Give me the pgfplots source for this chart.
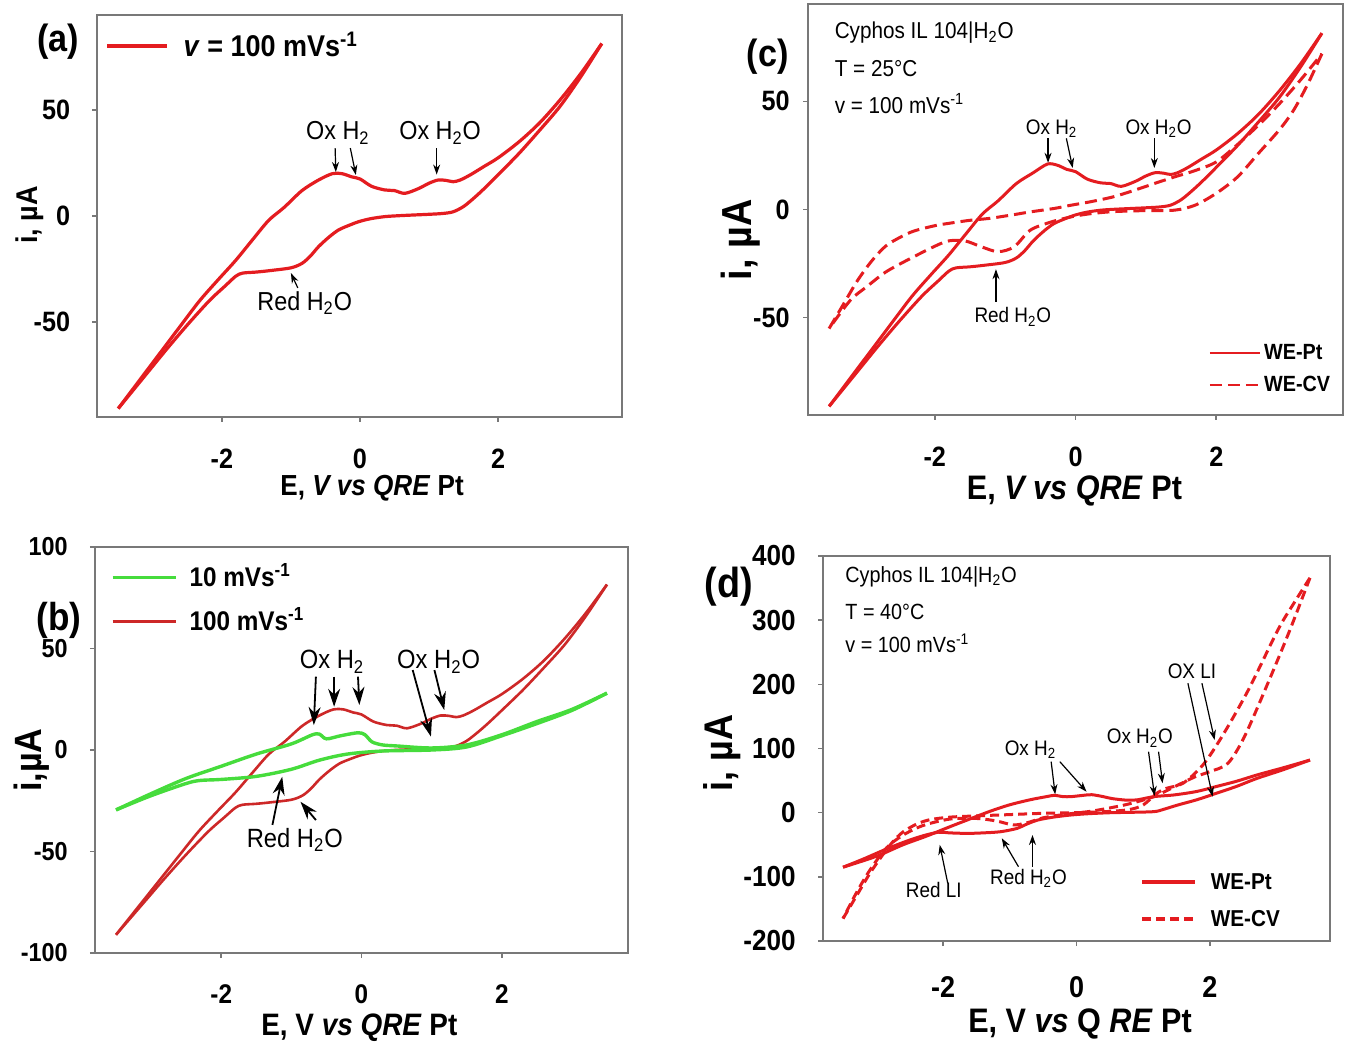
\documentclass[border=0pt]{standalone}
\usepackage{pgfplots}
\pgfplotsset{compat=1.18}
\usepackage{fontspec}
\setmainfont{Liberation Sans}[FakeStretch=0.9]
\usetikzlibrary{arrows.meta}
\definecolor{cvred}{RGB}{228,28,32}
\definecolor{bred}{RGB}{205,40,40}
\definecolor{cvgreen}{RGB}{70,220,60}
\definecolor{axgray}{RGB}{120,120,120}
\newcommand{\fs}[1]{\fontsize{#1}{#1}\selectfont}
\tikzset{ann/.style={-{Stealth[length=5pt,width=3.5pt]}, line width=0.6pt, black},
         bann/.style={-{Stealth[length=9pt,width=6pt]}, line width=0.9pt, black}}
\pgfplotsset{cvbase/.style={scale only axis, anchor=south west, xmin=-3.8, xmax=3.8,
  xtick={-2,0,2}, xticklabels={-2,0,2}, tick pos=left, tick align=outside,
  major tick length=2.5pt, axis line style={draw=axgray, line width=1pt},
  tick style={draw=axgray, line width=0.8pt}, clip=false, legend cell align=left,
  xticklabel style={anchor=center, inner sep=0pt},
  yticklabel style={anchor=east, inner sep=0pt}}}
\begin{document}
\begin{tikzpicture}
\useasboundingbox (0,0) rectangle (673.5pt,522pt);
% ---------------- (a) ----------------
\begin{axis}[cvbase, at={(48.75pt,313.5pt)}, width=262.5pt, height=201pt,
  ymin=-95, ymax=95, ytick={-50,0,50}, yticklabels={-50,0,50},
  xticklabel style={font=\fs{14}\bfseries, yshift=-18.5pt},
  yticklabel style={font=\fs{14}\bfseries, xshift=-11pt},
  xlabel={E, \textit{V vs QRE} Pt},
  xlabel style={font=\fs{14.5}\bfseries, at={(axis description cs:0.523,-0.1766)}, anchor=center},
  ylabel={i, µA},
  ylabel style={font=\fs{15}\bfseries, at={(axis description cs:-0.1286,0.5025)}, anchor=center},
  legend style={at={(axis description cs:0.0143,0.923)}, anchor=west, draw=none, fill=none,
    inner sep=0pt, column sep=7.5pt, font=\fs{15}\bfseries, nodes={inner sep=0pt}},
  legend image code/.code={\draw[#1] (0pt,0pt) -- (30pt,0pt);}]
\addlegendimage{cvred, line width=1.6pt}
\addlegendentry{\textit{v} = 100 mVs\textsuperscript{-1}}
\addplot[cvred, line width=1.6pt, smooth, tension=0.5, forget plot] coordinates {
(-3.5,-91) (-3.2,-78) (-2.9,-65) (-2.6,-52) (-2.32,-40) (-2.05,-30) (-1.8,-21) (-1.55,-11)
(-1.32,-2) (-1.1,4) (-0.84,12) (-0.6,17) (-0.4,20) (-0.26,20) (-0.12,18.5) (0,17.5) (0.17,14)
(0.36,12.3) (0.5,12) (0.65,10.7) (0.85,13) (1.0,15.5) (1.13,17) (1.25,16.8) (1.35,16.2)
(1.45,17) (1.6,19.5) (1.8,23.5) (2.0,27.5) (2.3,35) (2.6,44) (2.9,55) (3.2,67.5) (3.5,81.5)};
\addplot[cvred, line width=1.6pt, smooth, tension=0.5, forget plot] coordinates {
(3.5,81.5) (3.2,66) (2.9,52) (2.6,40.5) (2.3,29.5) (2.0,19.5) (1.8,13) (1.65,8.5) (1.5,4.5)
(1.35,2) (1.2,1.2) (1.0,0.8) (0.6,0.2) (0.36,-0.3) (0.15,-1.3) (-0.02,-2.7) (-0.15,-4.3)
(-0.31,-6.6) (-0.45,-10) (-0.6,-14.5) (-0.72,-19) (-0.84,-22.4) (-1.0,-24.5) (-1.3,-25.8)
(-1.5,-26.5) (-1.7,-27) (-1.8,-28.5) (-1.95,-33) (-2.18,-40) (-2.5,-51.5) (-2.8,-63)
(-3.1,-75) (-3.5,-91)};
\node[font=\fs{19}\bfseries] at (axis cs:-4.37,82.2) {(a)};
\node[font=\fs{13}] at (axis cs:-0.32,39.2) {Ox H\textsubscript{2}};
\node[font=\fs{13}] at (axis cs:1.16,39.2) {Ox H\textsubscript{2}O};
\node[font=\fs{13}] at (axis cs:-0.80,-41.1) {Red H\textsubscript{2}O};
\draw[ann] (axis cs:-0.36,32.1) -- (axis cs:-0.35,20.8);
\draw[ann] (axis cs:-0.14,32.1) -- (axis cs:-0.06,19.4);
\draw[ann] (axis cs:1.11,32.1) -- (axis cs:1.11,19.6);
\draw[ann] (axis cs:-0.90,-34) -- (axis cs:-1.0,-27);
\end{axis}
% ---------------- (b) ----------------
\begin{axis}[cvbase, at={(47.5pt,45.5pt)}, width=266.5pt, height=203pt,
  ymin=-100, ymax=100, ytick={-100,-50,0,50,100}, yticklabels={-100,-50,0,50,100},
  xticklabel style={font=\fs{13.5}\bfseries, yshift=-18pt},
  yticklabel style={font=\fs{13}\bfseries, xshift=-11pt},
  xlabel={E, V \textit{vs QRE} Pt},
  xlabel style={font=\fs{15.5}\bfseries, at={(axis description cs:0.496,-0.184)}, anchor=center},
  ylabel={i,µA},
  ylabel style={font=\fs{19}\bfseries, at={(axis description cs:-0.119,0.475)}, anchor=center},
  legend style={at={(axis description cs:0.0295,0.8707)}, anchor=west, draw=none, fill=none,
    inner sep=0pt, column sep=6pt, row sep=11.5pt, font=\fs{13.5}\bfseries,
    nodes={inner sep=0pt, text height=10pt, text depth=0.5pt}},
  legend image code/.code={\draw[#1] (0pt,0pt) -- (31.7pt,0pt);}]
\addlegendimage{cvgreen, line width=1.5pt}
\addlegendentry{10 mVs\textsuperscript{-1}}
\addlegendimage{bred, line width=1.5pt}
\addlegendentry{100 mVs\textsuperscript{-1}}
\addplot[bred, line width=1.3pt, smooth, tension=0.5, forget plot] coordinates {
(-3.5,-91) (-3.2,-78) (-2.9,-65) (-2.6,-52) (-2.32,-40) (-2.05,-30) (-1.8,-21) (-1.55,-11)
(-1.32,-2) (-1.1,4) (-0.84,12) (-0.6,17) (-0.4,20) (-0.26,20) (-0.12,18.5) (0,17.5) (0.17,14)
(0.36,12.3) (0.5,12) (0.65,10.7) (0.85,13) (1.0,15.5) (1.13,17) (1.25,16.8) (1.35,16.2)
(1.45,17) (1.6,19.5) (1.8,23.5) (2.0,27.5) (2.3,35) (2.6,44) (2.9,55) (3.2,67.5) (3.5,81.5)};
\addplot[bred, line width=1.3pt, smooth, tension=0.5, forget plot] coordinates {
(3.5,81.5) (3.2,66) (2.9,52) (2.6,40.5) (2.3,29.5) (2.0,19.5) (1.8,13) (1.65,8.5) (1.5,4.5)
(1.35,2) (1.2,1.2) (1.0,0.8) (0.6,0.2) (0.36,-0.3) (0.15,-1.3) (-0.02,-2.7) (-0.15,-4.3)
(-0.31,-6.6) (-0.45,-10) (-0.6,-14.5) (-0.72,-19) (-0.84,-22.4) (-1.0,-24.5) (-1.3,-25.8)
(-1.5,-26.5) (-1.7,-27) (-1.8,-28.5) (-1.95,-33) (-2.18,-40) (-2.5,-51.5) (-2.8,-63)
(-3.1,-75) (-3.5,-91)};
\addplot[cvgreen, line width=1.7pt, smooth, tension=0.5, forget plot] coordinates {
(-3.5,-29.5) (-3.0,-21.5) (-2.5,-14) (-2.0,-8) (-1.5,-2) (-1.0,3) (-0.7,7.5) (-0.6,7.8)
(-0.5,5.5) (-0.3,7) (-0.05,8.5) (0.05,7.5) (0.15,4) (0.3,2.5) (0.5,2) (1.0,1) (1.5,2.5)
(2.0,7.5) (2.5,14) (3.0,20) (3.5,28)};
\addplot[cvgreen, line width=1.7pt, smooth, tension=0.5, forget plot] coordinates {
(3.5,28) (3.0,19.5) (2.5,13) (2.0,7) (1.5,1.5) (1.0,0) (0.3,-0.5) (-0.2,-2) (-0.6,-5)
(-1.0,-9.5) (-1.5,-13) (-2.0,-14.5) (-2.3,-15) (-2.5,-16.5) (-3.0,-22.5) (-3.5,-29.5)};
\node[font=\fs{19.5}\bfseries] at (axis cs:-4.31,64) {(b)};
\node[font=\fs{13.2}] at (axis cs:-0.42,43.5) {Ox H\textsubscript{2}};
\node[font=\fs{13.2}] at (axis cs:1.10,43.5) {Ox H\textsubscript{2}O};
\node[font=\fs{13.2}] at (axis cs:-0.95,-44.3) {Red H\textsubscript{2}O};
\draw[bann] (axis cs:-0.65,36.1) -- (axis cs:-0.68,12.3);
\draw[bann] (axis cs:-0.39,36.1) -- (axis cs:-0.39,21.3);
\draw[bann] (axis cs:-0.05,36.1) -- (axis cs:-0.03,22.2);
\draw[bann] (axis cs:0.73,39.4) -- (axis cs:0.99,6.6);
\draw[bann] (axis cs:1.04,39.4) -- (axis cs:1.18,19.7);
\draw[bann] (axis cs:-1.27,-36.9) -- (axis cs:-1.13,-13.2);
\draw[bann] (axis cs:-0.65,-34.5) -- (axis cs:-0.87,-25.5);
\end{axis}
% ---------------- (c) ----------------
\begin{axis}[cvbase, at={(404pt,314.5pt)}, width=267.5pt, height=205.5pt,
  ymin=-95, ymax=95, ytick={-50,0,50}, yticklabels={-50,0,50},
  xticklabel style={font=\fs{14}\bfseries, yshift=-18.5pt},
  yticklabel style={font=\fs{14}\bfseries, xshift=-6.5pt},
  xlabel={E, \textit{V vs QRE} Pt},
  xlabel style={font=\fs{17}\bfseries, at={(axis description cs:0.498,-0.185)}, anchor=center},
  ylabel={i, µA},
  ylabel style={font=\fs{21}\bfseries, at={(axis description cs:-0.125,0.426)}, anchor=center},
  legend style={at={(axis description cs:0.748,0.112)}, anchor=west, draw=none, fill=none,
    inner sep=0pt, column sep=1.5pt, row sep=7pt, font=\fs{11}\bfseries,
    nodes={inner sep=0pt, text height=8pt, text depth=1pt}},
  legend image code/.code={\draw[#1] (0pt,0pt) -- (25pt,0pt);}]
\addlegendimage{cvred, line width=1.3pt}
\addlegendentry{WE-Pt}
\addlegendimage{cvred, line width=1.3pt, dash pattern=on 6pt off 3pt}
\addlegendentry{WE-CV}
\addplot[cvred, line width=1.5pt, smooth, tension=0.5, forget plot] coordinates {
(-3.5,-91) (-3.2,-78) (-2.9,-65) (-2.6,-52) (-2.32,-40) (-2.05,-30) (-1.8,-21) (-1.55,-11)
(-1.32,-2) (-1.1,4) (-0.84,12) (-0.6,17) (-0.4,21) (-0.26,20.5) (-0.12,18.5) (0,17.5) (0.17,14)
(0.36,12.3) (0.5,12) (0.65,10.7) (0.85,13) (1.0,15.5) (1.13,17) (1.25,16.8) (1.35,16.2)
(1.45,17) (1.6,19.5) (1.8,23.5) (2.0,27.5) (2.3,35) (2.6,44) (2.9,55) (3.2,67.5) (3.5,81.5)};
\addplot[cvred, line width=1.5pt, smooth, tension=0.5, forget plot] coordinates {
(3.5,81.5) (3.2,66) (2.9,52) (2.6,40.5) (2.3,29.5) (2.0,19.5) (1.8,13) (1.65,8.5) (1.5,4.5)
(1.35,2) (1.2,1.2) (1.0,0.8) (0.6,0.2) (0.36,-0.3) (0.15,-1.3) (-0.02,-2.7) (-0.15,-4.3)
(-0.31,-6.6) (-0.45,-10) (-0.6,-14.5) (-0.72,-19) (-0.84,-22.4) (-1.0,-24.5) (-1.3,-25.8)
(-1.5,-26.5) (-1.7,-27) (-1.8,-28.5) (-1.95,-33) (-2.18,-40) (-2.5,-51.5) (-2.8,-63)
(-3.1,-75) (-3.5,-91)};
\addplot[cvred, line width=1.5pt, dash pattern=on 6pt off 3pt, smooth, tension=0.5, forget plot] coordinates {
(-3.5,-55) (-3.3,-44) (-3.1,-33) (-2.9,-24) (-2.7,-17) (-2.5,-13) (-2.3,-10) (-2.0,-7.5)
(-1.8,-6.4) (-1.5,-5) (-1.22,-4.1) (-0.9,-2.5) (-0.64,-1.1) (-0.3,0.5) (-0.06,2) (0.2,3.5)
(0.53,5.8) (0.8,8.5) (1.12,12) (1.4,15) (1.7,18) (2.0,22) (2.3,30) (2.6,39) (2.9,49)
(3.2,60) (3.5,72)};
\addplot[cvred, line width=1.5pt, dash pattern=on 6pt off 3pt, smooth, tension=0.5, forget plot] coordinates {
(3.5,72) (3.3,58) (3.1,46) (2.9,37) (2.6,26) (2.3,15) (2.0,7.5) (1.7,2) (1.41,-0.3)
(1.0,-0.5) (0.53,-1) (0.2,-2) (-0.06,-3.4) (-0.34,-5.7) (-0.64,-9.5) (-0.87,-17.2)
(-1.1,-19.5) (-1.34,-17.2) (-1.57,-14.5) (-1.8,-14.5) (-2.0,-17) (-2.39,-23.4) (-2.7,-29)
(-2.97,-35.8) (-3.2,-42) (-3.5,-55)};
\node[font=\fs{19}\bfseries] at (axis cs:-4.37,70.5) {(c)};
\node[font=\fs{11.5}, anchor=west] at (axis cs:-3.52,81.6) {Cyphos IL 104|H\textsubscript{2}O};
\node[font=\fs{11.5}, anchor=west] at (axis cs:-3.52,65.3) {T = 25°C};
\node[font=\fs{11.5}, anchor=west] at (axis cs:-3.52,49.1) {v = 100 mVs\textsuperscript{-1}};
\node[font=\fs{10.5}] at (axis cs:-0.34,37.5) {Ox H\textsubscript{2}};
\node[font=\fs{10.5}] at (axis cs:1.18,37.5) {Ox H\textsubscript{2}O};
\node[font=\fs{10.5}] at (axis cs:-0.89,-49.6) {Red H\textsubscript{2}O};
\draw[ann] (axis cs:-0.39,32.9) -- (axis cs:-0.39,21.6);
\draw[ann] (axis cs:-0.13,32.9) -- (axis cs:-0.04,19.2);
\draw[ann] (axis cs:1.12,32.9) -- (axis cs:1.12,19.2);
\draw[ann] (axis cs:-1.13,-42.6) -- (axis cs:-1.13,-27.6);
\end{axis}
% ---------------- (d) ----------------
\begin{axis}[cvbase, at={(411.5pt,51.5pt)}, width=253.5pt, height=192.5pt,
  ymin=-200, ymax=400, ytick={-200,-100,0,100,200,300,400},
  yticklabels={-200,-100,0,100,200,300,400},
  xticklabel style={font=\fs{15}\bfseries, yshift=-20.5pt},
  yticklabel style={font=\fs{14.5}\bfseries, xshift=-11pt},
  xlabel={E, V \textit{vs} Q \textit{RE} Pt},
  xlabel style={font=\fs{17}\bfseries, at={(axis description cs:0.507,-0.215)}, anchor=center},
  ylabel={i, µA},
  ylabel style={font=\fs{20}\bfseries, at={(axis description cs:-0.198,0.488)}, anchor=center},
  legend style={at={(axis description cs:0.625,0.105)}, anchor=west, draw=none, fill=none,
    inner sep=0pt, column sep=7pt, row sep=9.5pt, font=\fs{11.5}\bfseries,
    nodes={inner sep=0pt, text height=8pt, text depth=1pt}},
  legend image code/.code={\draw[#1] (0pt,0pt) -- (26.5pt,0pt);}]
\addlegendimage{cvred, line width=1.8pt}
\addlegendentry{WE-Pt}
\addlegendimage{cvred, line width=1.8pt, dash pattern=on 4.5pt off 2.5pt}
\addlegendentry{WE-CV}
\addplot[cvred, line width=1.5pt, smooth, tension=0.5, forget plot] coordinates {
(-3.5,-85) (-3.0,-68) (-2.6,-50) (-2.26,-37) (-1.9,-22) (-1.64,-11.5) (-1.3,2) (-1.01,12)
(-0.7,20) (-0.45,25) (-0.33,27) (-0.2,25) (-0.08,25) (0.1,27) (0.23,28) (0.4,25) (0.53,22)
(0.75,19.5) (0.91,20) (1.16,25) (1.46,27.6) (1.8,33) (2.09,40.6) (2.4,49) (2.71,58.9)
(3.1,70) (3.5,82)};
\addplot[cvred, line width=1.5pt, smooth, tension=0.5, forget plot] coordinates {
(3.5,82) (3.1,67) (2.71,53.6) (2.4,41) (2.09,30) (1.8,20) (1.52,12) (1.3,5) (1.16,1.6)
(0.8,0.5) (0.53,0) (0.2,-1.5) (-0.08,-3.6) (-0.35,-7) (-0.58,-11.5) (-0.75,-18)
(-0.89,-24.5) (-1.14,-29.7) (-1.4,-31.5) (-1.64,-32.3) (-1.9,-31.5) (-2.07,-30.5)
(-2.3,-36) (-2.57,-45.3) (-2.88,-58) (-3.19,-72) (-3.5,-85)};
\addplot[cvred, line width=1.5pt, dash pattern=on 4.5pt off 2.5pt, smooth, tension=0.5, forget plot] coordinates {
(-3.5,-165) (-3.3,-130) (-3.1,-95) (-2.9,-65) (-2.75,-45) (-2.6,-30) (-2.4,-18) (-2.2,-11)
(-1.9,-7) (-1.5,-5) (-1.0,-3) (-0.5,-1) (0,0) (0.5,2) (0.8,5) (1.0,12) (1.2,30) (1.35,38)
(1.6,46) (1.9,75) (2.2,122) (2.58,192) (3.02,285) (3.25,325) (3.5,366)};
\addplot[cvred, line width=1.5pt, dash pattern=on 4.5pt off 2.5pt, smooth, tension=0.5, forget plot] coordinates {
(3.5,366) (3.2,285) (2.89,207) (2.52,119) (2.27,77) (2.0,64) (1.78,56) (1.5,42) (1.16,25)
(0.8,14) (0.53,8) (0.2,2) (-0.2,-3) (-0.5,-8) (-0.75,-16) (-0.95,-19) (-1.2,-13) (-1.5,-9)
(-1.9,-10) (-2.3,-20) (-2.6,-35) (-2.85,-55) (-3.1,-90) (-3.3,-125) (-3.5,-165)};
\node[font=\fs{21}\bfseries] at (axis cs:-5.21,351.7) {(d)};
\node[font=\fs{11}, anchor=west] at (axis cs:-3.57,367.8) {Cyphos IL 104|H\textsubscript{2}O};
\node[font=\fs{11}, anchor=west] at (axis cs:-3.57,313.2) {T = 40°C};
\node[font=\fs{11}, anchor=west] at (axis cs:-3.57,264) {v = 100 mVs\textsuperscript{-1}};
\node[font=\fs{10.5}] at (axis cs:1.73,219.7) {OX LI};
\node[font=\fs{10.5}] at (axis cs:0.95,116) {Ox H\textsubscript{2}O};
\node[font=\fs{10.5}] at (axis cs:-0.69,97.7) {Ox H\textsubscript{2}};
\node[font=\fs{10.5}] at (axis cs:-2.14,-120.5) {Red LI};
\node[font=\fs{10.5}] at (axis cs:-0.72,-102.2) {Red H\textsubscript{2}O};
\draw[ann] (axis cs:1.67,201.7) -- (axis cs:2.04,24.9);
\draw[ann] (axis cs:1.88,201.7) -- (axis cs:2.07,113.3);
\draw[ann] (axis cs:1.08,95) -- (axis cs:1.17,26);
\draw[ann] (axis cs:1.23,95) -- (axis cs:1.29,46);
\draw[ann] (axis cs:-0.38,79.5) -- (axis cs:-0.32,28.6);
\draw[ann] (axis cs:-0.25,79.5) -- (axis cs:0.15,32.7);
\draw[ann] (axis cs:-1.93,-110) -- (axis cs:-2.05,-50.2);
\draw[ann] (axis cs:-0.87,-84.2) -- (axis cs:-1.12,-39.9);
\draw[ann] (axis cs:-0.66,-84.2) -- (axis cs:-0.66,-34.8);
\end{axis}
\end{tikzpicture}
\end{document}
